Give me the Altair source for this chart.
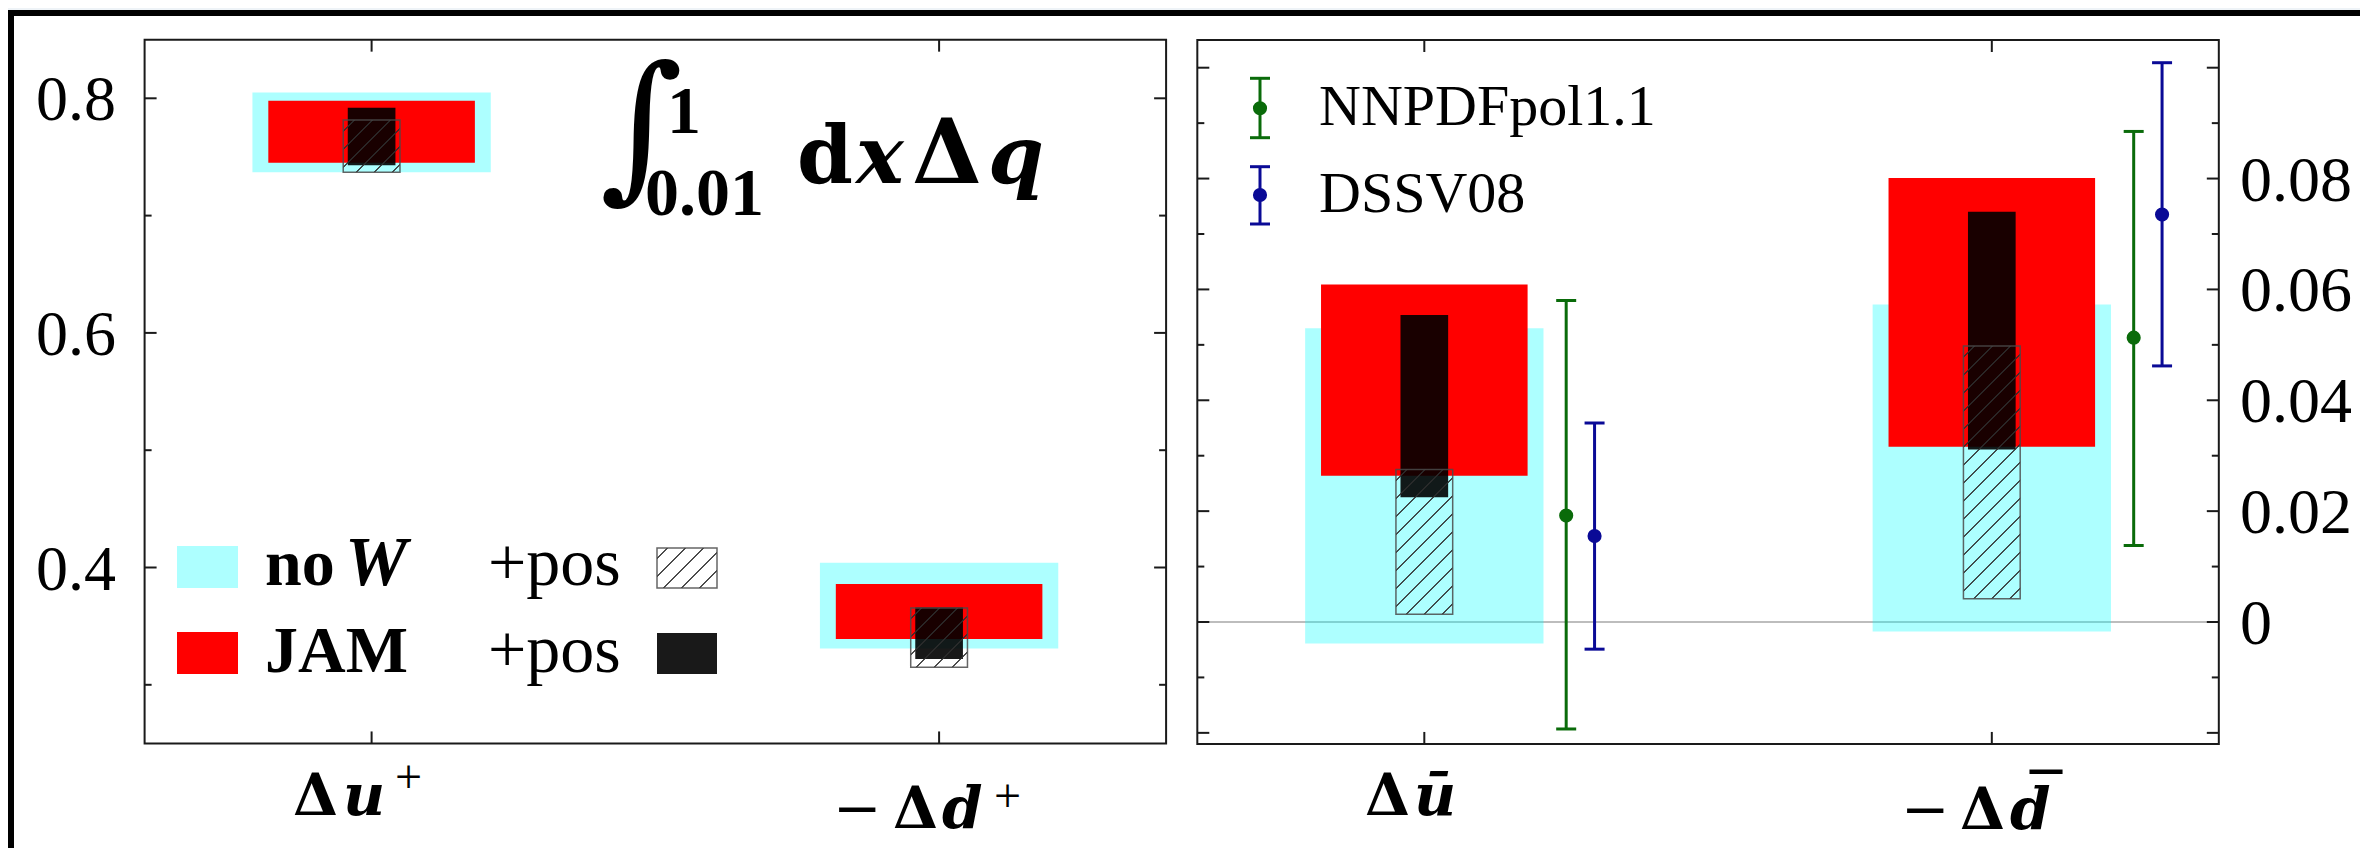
import altair as alt
import pandas as pd

# ---------------- data ----------------
CAT_POS = [0, 1]                      # category slots in each panel
# left panel: Δu+, -Δd+
L_NOW_LO = [0.737, 0.331]
L_NOW_HI = [0.805, 0.404]
L_JAM_LO = [0.745, 0.339]
L_JAM_HI = [0.798, 0.386]
L_JAMPOS_LO = [0.743, 0.322]
L_JAMPOS_HI = [0.792, 0.366]
L_NOWPOS_LO = [0.737, 0.315]
L_NOWPOS_HI = [0.7815, 0.3655]
# right panel: Δubar, -Δdbar
R_NOW_LO = [-0.0039, -0.0017]
R_NOW_HI = [0.0530, 0.0573]
R_JAM_LO = [0.0264, 0.0316]
R_JAM_HI = [0.0609, 0.0801]
R_JAMPOS_LO = [0.0225, 0.0311]
R_JAMPOS_HI = [0.0554, 0.0740]
R_NOWPOS_LO = [0.0014, 0.0042]
R_NOWPOS_HI = [0.0275, 0.0498]
NNPDF_MID = [0.0192, 0.0513]
NNPDF_LO = [-0.0193, 0.0138]
NNPDF_HI = [0.0580, 0.0885]
DSSV_MID = [0.0155, 0.0735]
DSSV_LO = [-0.0049, 0.0462]
DSSV_HI = [0.0359, 0.1009]

L_TICKS_MAJOR = [0.4, 0.6, 0.8]
L_TICKS_MINOR = [0.3, 0.5, 0.7]
L_TICK_LABELS = ["0.4", "0.6", "0.8"]
R_TICKS_MAJOR = [-0.02, 0.0, 0.02, 0.04, 0.06, 0.08, 0.10]
R_TICKS_MINOR = [-0.01, 0.01, 0.03, 0.05, 0.07, 0.09]
R_LABEL_VALUES = [0.0, 0.02, 0.04, 0.06, 0.08]
R_TICK_LABELS = ["0", "0.02", "0.04", "0.06", "0.08"]

# ---------------- layout ----------------
W, H = 2352, 840
PX = 567.5
X0 = -(371.6 - 8) / PX
X1 = X0 + W / PX
PYL = 1173.0
YL1 = 0.8 + (98.3 - 8) / PYL
YL0 = YL1 - H / PYL
PYR = 5543.0
YR1 = (622.0 - 8) / PYR
YR0 = YR1 - H / PYR
ROFF = 1.855
XLIM = (-0.4, 1.4)
YLIM = {"L": (0.25, 0.85), "R": (-0.022, 0.105)}
PPY = {"L": PYL, "R": PYR}

SERIF = "Liberation Serif, Times New Roman, Times, DejaVu Serif, serif"
DSERIF = "DejaVu Serif, serif"
GREEN = "#0a6b0a"
BLUE = "#0a0a96"


def xsc():
    return alt.Scale(domain=[X0, X1], range=[0, W], nice=False, zero=False)


def ysc(side):
    d = [YL0, YL1] if side == "L" else [YR0, YR1]
    return alt.Scale(domain=d, range=[H, 0], nice=False, zero=False)


def qx(f):
    return alt.X(f"{f}:Q", scale=xsc(), axis=None)


def qy(f, side):
    return alt.Y(f"{f}:Q", scale=ysc(side), axis=None)


def px(f):
    return alt.X(f"{f}:Q", scale=None, axis=None)


def py(f):
    return alt.Y(f"{f}:Q", scale=None, axis=None)


def bars(centers, lo, hi, half, side, **mk):
    df = pd.DataFrame({"xa": [c - half for c in centers], "xb": [c + half for c in centers],
                       "lo": lo, "hi": hi})
    return alt.Chart(df).mark_rect(**mk).encode(
        x=qx("xa"), x2=alt.X2("xb"), y=qy("lo", side), y2=alt.Y2("hi"))


def hatch_gradient(wpx, hpx, spacing=18.0, lw=1.4, col="rgba(45,45,45,0.85)"):
    s = wpx + hpx
    k = s / (wpx ** 2 + hpx ** 2)
    clear = "rgba(0,0,0,0)"
    stops = [alt.GradientStop(color=clear, offset=0)]
    c = spacing * 0.6
    h = lw * 0.72
    while c < s:
        a = max(0.0, (c - h) / s)
        b = min(1.0, (c + h) / s)
        stops += [alt.GradientStop(color=clear, offset=a), alt.GradientStop(color=col, offset=a),
                  alt.GradientStop(color=col, offset=b), alt.GradientStop(color=clear, offset=b)]
        c += spacing
    stops.append(alt.GradientStop(color=clear, offset=1))
    return alt.LinearGradient(gradient="linear", stops=stops, x1=0, y1=0, x2=k * wpx, y2=k * hpx)


def hatched(centers, lo, hi, side, half=0.05):
    out = []
    for c, a, b in zip(centers, lo, hi):
        g = hatch_gradient(2 * half * PX, (b - a) * PPY[side])
        df = pd.DataFrame({"xa": [c - half], "xb": [c + half], "lo": [a], "hi": [b]})
        out.append(alt.Chart(df).mark_rect(fill=g, stroke="#4a4a4a", strokeWidth=1.5,
                                           strokeOpacity=0.85).encode(
            x=qx("xa"), x2=alt.X2("xb"), y=qy("lo", side), y2=alt.Y2("hi")))
    return out


def errbars(centers, mid, lo, hi, color, cap_px=10):
    cw = cap_px / PX
    df = pd.DataFrame({"x": centers, "xa": [c - cw for c in centers], "xb": [c + cw for c in centers],
                       "mid": mid, "lo": lo, "hi": hi})
    base = alt.Chart(df)
    return [
        base.mark_rule(color=color, strokeWidth=3).encode(x=qx("x"), y=qy("lo", "R"), y2=alt.Y2("hi")),
        base.mark_rule(color=color, strokeWidth=3).encode(x=qx("xa"), x2=alt.X2("xb"), y=qy("lo", "R")),
        base.mark_rule(color=color, strokeWidth=3).encode(x=qx("xa"), x2=alt.X2("xb"), y=qy("hi", "R")),
        base.mark_circle(color=color, size=200, opacity=1).encode(x=qx("x"), y=qy("mid", "R")),
    ]


def frame_and_ticks(side, offset, major, minor):
    xl, xr = XLIM[0] + offset, XLIM[1] + offset
    yb, yt = YLIM[side]
    fr = pd.DataFrame({"xa": [xl], "xb": [xr], "lo": [yb], "hi": [yt]})
    frame = alt.Chart(fr).mark_rect(fillOpacity=0, stroke="#1a1a1a", strokeWidth=2).encode(
        x=qx("xa"), x2=alt.X2("xb"), y=qy("lo", side), y2=alt.Y2("hi"))
    rows = []
    for vals, ln in ((major, 12), (minor, 7)):
        d = ln / PX
        for v in vals:
            rows.append({"xa": xl, "xb": xl + d, "v": v})
            rows.append({"xa": xr - d, "xb": xr, "v": v})
    yt_rules = alt.Chart(pd.DataFrame(rows)).mark_rule(color="#1a1a1a", strokeWidth=2).encode(
        x=qx("xa"), x2=alt.X2("xb"), y=qy("v", side))
    dy = 12 / PPY[side]
    rows = []
    for c in CAT_POS:
        rows.append({"x": c + offset, "ya": yt - dy, "yb": yt})
        rows.append({"x": c + offset, "ya": yb, "yb": yb + dy})
    xt_rules = alt.Chart(pd.DataFrame(rows)).mark_rule(color="#1a1a1a", strokeWidth=2).encode(
        x=qx("x"), y=qy("ya", side), y2=alt.Y2("yb"))
    return [frame, yt_rules, xt_rules]


def texts(items, size, weight="normal", style="normal", font=SERIF, color="black", align="left"):
    df = pd.DataFrame(items, columns=["t", "x", "y"])
    df["x"] = df["x"] - 8
    df["y"] = df["y"] - 8
    return alt.Chart(df).mark_text(font=font, fontSize=size, fontWeight=weight, fontStyle=style,
                                   color=color, align=align, baseline="alphabetic").encode(
        x=px("x"), y=py("y"), text="t:N")


def pix_rects(items, **mk):
    df = pd.DataFrame(items, columns=["xa", "xb", "ya", "yb"])
    df[["xa", "xb", "ya", "yb"]] -= 8
    return alt.Chart(df).mark_rect(**mk).encode(x=px("xa"), x2=alt.X2("xb"), y=py("ya"), y2=alt.Y2("yb"))


layers = []

# slide-like outer frame
layers.append(pix_rects([(8, 2360, 8, 10)], fill="#eef3f7"))
layers.append(pix_rects([(8, 2360, 10, 16), (8, 14, 10, 848)], fill="black"))

LC = CAT_POS
RC = [c + ROFF for c in CAT_POS]

# zero line (right panel)
zl = pd.DataFrame({"xa": [XLIM[0] + ROFF], "xb": [XLIM[1] + ROFF], "v": [0.0]})
layers.append(alt.Chart(zl).mark_rule(color="#bdbdbd", strokeWidth=2).encode(
    x=qx("xa"), x2=alt.X2("xb"), y=qy("v", "R")))

# bars
layers.append(bars(LC, L_NOW_LO, L_NOW_HI, 0.21, "L", fill="cyan", opacity=0.32))
layers.append(bars(RC, R_NOW_LO, R_NOW_HI, 0.21, "R", fill="cyan", opacity=0.32))
layers.append(bars(LC, L_JAM_LO, L_JAM_HI, 0.182, "L", fill="#ff0000"))
layers.append(bars(RC, R_JAM_LO, R_JAM_HI, 0.182, "R", fill="#ff0000"))
layers.append(bars(LC, L_JAMPOS_LO, L_JAMPOS_HI, 0.042, "L", fill="black", opacity=0.9))
layers.append(bars(RC, R_JAMPOS_LO, R_JAMPOS_HI, 0.042, "R", fill="black", opacity=0.9))
layers += hatched(LC, L_NOWPOS_LO, L_NOWPOS_HI, "L")
layers += hatched(RC, R_NOWPOS_LO, R_NOWPOS_HI, "R")

# error bars
layers += errbars([c + 0.25 for c in RC], NNPDF_MID, NNPDF_LO, NNPDF_HI, GREEN)
layers += errbars([c + 0.30 for c in RC], DSSV_MID, DSSV_LO, DSSV_HI, BLUE)

# frames + ticks
layers += frame_and_ticks("L", 0.0, L_TICKS_MAJOR, L_TICKS_MINOR)
layers += frame_and_ticks("R", ROFF, R_TICKS_MAJOR, R_TICKS_MINOR)

# tick labels
ldf = pd.DataFrame({"v": L_TICKS_MAJOR, "t": L_TICK_LABELS})
layers.append(alt.Chart(ldf).mark_text(font=SERIF, fontSize=64, align="right", baseline="alphabetic",
                                       dy=22).encode(x=alt.value(108), y=qy("v", "L"), text="t:N"))
rdf = pd.DataFrame({"v": R_LABEL_VALUES, "t": R_TICK_LABELS})
layers.append(alt.Chart(rdf).mark_text(font=SERIF, fontSize=64, align="left", baseline="alphabetic",
                                       dy=22).encode(x=alt.value(2232), y=qy("v", "R"), text="t:N"))

# category labels: Δu⁺, −Δd⁺, Δū, −Δd̄
layers.append(texts([("Δ", 293, 815), ("Δ", 893, 828), ("Δ", 1365, 815), ("Δ", 1960, 829)],
                    58, weight="bold", font=DSERIF))
layers.append(texts([("u", 343, 815), ("d", 942, 828), ("ū", 1414, 815), ("d", 2010, 829)],
                    58, weight="bold", style="italic", font=DSERIF))
layers.append(texts([("+", 395, 793), ("+", 994, 812)], 48))
layers.append(texts([("−", 833, 828), ("−", 1901, 829)], 58, font=DSERIF))
layers.append(texts([("¯", 2030, 817)], 64, weight="bold"))

# title: ∫_{0.01}^{1} dxΔq
layers.append(texts([("∫", 600, 180)], 160, font=DSERIF))
layers.append(texts([("1", 667, 133), ("0.01", 645, 215)], 68, weight="bold"))
layers.append(texts([("d", 797, 183)], 80, weight="bold", font=DSERIF))
layers.append(texts([("x", 856, 183), ("q", 988, 183)], 80, weight="bold", style="italic", font=DSERIF))
layers.append(texts([("Δ", 912, 183)], 90, weight="bold", font=DSERIF))

# left legend
layers.append(pix_rects([(177, 238, 546, 588)], fill="cyan", opacity=0.32))
layers.append(pix_rects([(177, 238, 632, 674)], fill="#ff0000"))
layers.append(pix_rects([(657, 717, 633, 674)], fill="black", opacity=0.9))
sw = pd.DataFrame({"xa": [649.0], "xb": [709.0], "ya": [540.0], "yb": [580.0]})
layers.append(alt.Chart(sw).mark_rect(fill=hatch_gradient(60, 40), stroke="#4a4a4a", strokeWidth=1.5,
                                      strokeOpacity=0.85).encode(
    x=px("xa"), x2=alt.X2("xb"), y=py("ya"), y2=alt.Y2("yb")))
layers.append(texts([("no", 265, 585), ("JAM", 265, 672)], 66, weight="bold"))
layers.append(texts([("W", 345, 585)], 70, weight="bold", style="italic"))
layers.append(texts([("+pos", 488, 585), ("+pos", 488, 672)], 68))

# right legend
for col, top, bot, mid in ((GREEN, 78.3, 137.7, 108.3), (BLUE, 166.7, 224.0, 195.0)):
    d = pd.DataFrame({"x": [1252.0], "xa": [1242.0], "xb": [1262.0],
                      "top": [top - 8], "bot": [bot - 8], "mid": [mid - 8]})
    b = alt.Chart(d)
    layers.append(b.mark_rule(color=col, strokeWidth=3).encode(x=px("x"), y=py("top"), y2=alt.Y2("bot")))
    layers.append(b.mark_rule(color=col, strokeWidth=3).encode(x=px("xa"), x2=alt.X2("xb"), y=py("top")))
    layers.append(b.mark_rule(color=col, strokeWidth=3).encode(x=px("xa"), x2=alt.X2("xb"), y=py("bot")))
    layers.append(b.mark_circle(color=col, size=200, opacity=1).encode(x=px("x"), y=py("mid")))
layers.append(texts([("NNPDFpol1.1", 1319, 125), ("DSSV08", 1319, 212)], 58))

chart = alt.layer(*layers).properties(
    width=W, height=H, padding=0, background="white",
    autosize=alt.AutoSizeParams(type="none"),
).resolve_scale(x="independent", y="independent").configure_view(strokeOpacity=0)

chart.save("out.html", embed_options={"renderer": "svg", "actions": False})
